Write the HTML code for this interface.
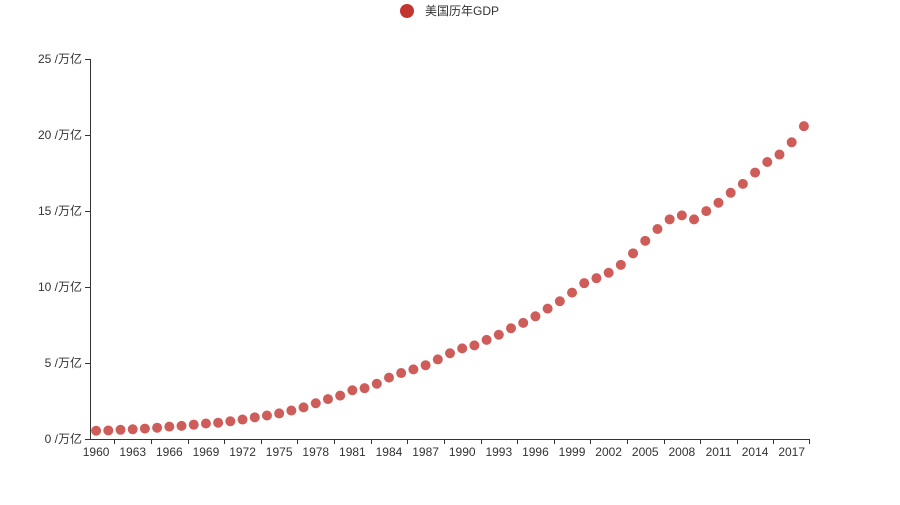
<!DOCTYPE html>
<html><head><meta charset="utf-8"><style>
body{margin:0;background:#fff;width:900px;height:500px;overflow:hidden}
svg{font-family:"Liberation Sans","Noto Sans CJK SC",sans-serif}
</style></head><body>
<svg id="s" width="900" height="500" xmlns="http://www.w3.org/2000/svg">
<circle cx="407" cy="11" r="7" fill="#c23531"/>
<text x="425" y="15" font-size="12" fill="#333">美国历年GDP</text>
<line x1="90.5" y1="59" x2="90.5" y2="439" stroke="#333"/>
<line x1="90" y1="439.5" x2="810" y2="439.5" stroke="#333"/>
<g id="g"></g>
</svg>
<script>
var d=[0.543,0.563,0.605,0.638,0.686,0.744,0.815,0.862,0.942,1.019,1.073,1.165,1.279,1.425,1.545,1.684,1.873,2.082,2.352,2.627,2.857,3.207,3.343,3.634,4.037,4.339,4.579,4.855,5.236,5.641,5.963,6.158,6.520,6.859,7.287,7.640,8.073,8.578,9.063,9.631,10.252,10.582,10.936,11.458,12.214,13.037,13.815,14.452,14.713,14.449,14.992,15.543,16.197,16.785,17.527,18.225,18.715,19.519,20.580];
var h='',w=720/59;
for(var v=0;v<=25;v+=5){var y=439-v*15.2;h+='<line x1="85" x2="90" y1="'+(y+.5)+'" y2="'+(y+.5)+'" stroke="#333"/><text x="82" y="'+(y+4)+'" font-size="12" fill="#333" text-anchor="end">'+v+' /万亿</text>';}
for(var k=0;k<20;k++){var x=90+w*(3*k+2);if(x<810)h+='<line x1="'+(Math.round(x)+.5)+'" x2="'+(Math.round(x)+.5)+'" y1="439" y2="444" stroke="#333"/>';var lx=90+w*(3*k+.5);if(3*k<59)h+='<text x="'+lx+'" y="456" font-size="12" fill="#333" text-anchor="middle">'+(1960+3*k)+'</text>';}
h+='<line x1="809.5" x2="809.5" y1="439" y2="444" stroke="#333"/>';
for(var i=0;i<59;i++){h+='<circle cx="'+(90+w*(i+.5))+'" cy="'+(439-d[i]*15.2)+'" r="5" fill="#c23531" fill-opacity="0.8"/>';}
document.getElementById('g').innerHTML=h;
</script>
</body></html>
